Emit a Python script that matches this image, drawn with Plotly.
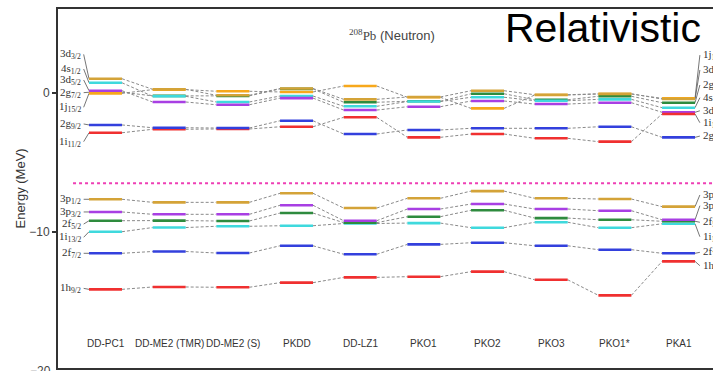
import plotly.graph_objects as go

# Neutron single-particle levels of 208Pb for a set of relativistic models
models = ["DD-PC1", "DD-ME2 (TMR)", "DD-ME2 (S)", "PKDD", "DD-LZ1",
          "PKO1", "PKO2", "PKO3", "PKO1*", "PKA1"]

# energies in MeV, one value per model (same order as `models`)
e_3d32 = [0.99, 0.23, -0.20, 0.29, -0.49, -0.32, 0.13, -0.16, -0.09, -0.47]
e_4s12 = [0.70, -0.27, -0.68, -0.25, -0.99, -0.65, -0.34, -0.59, -0.49, -1.09]
e_3d52 = [0.13, -0.68, -0.88, -0.40, -1.26, -1.02, -0.61, -0.83, -0.73, -1.42]
e_2g72 = [0.02, -0.24, -0.24, 0.26, -0.70, -0.63, -0.09, -0.52, -0.27, -0.73]
e_1j152 = [-0.06, 0.21, 0.09, 0.04, 0.47, -0.34, -1.14, -0.18, -0.11, -0.42]
e_2g92 = [-2.33, -2.53, -2.55, -2.03, -2.98, -2.69, -2.57, -2.57, -2.46, -3.22]
e_1i112 = [-2.89, -2.64, -2.62, -2.46, -1.78, -3.22, -2.98, -3.29, -3.53, -1.54]

e_3p12 = [-7.67, -7.89, -7.89, -7.24, -8.30, -7.60, -7.08, -7.60, -7.65, -8.20]
e_3p32 = [-8.58, -8.75, -8.75, -8.10, -9.21, -8.37, -8.01, -8.37, -8.49, -9.14]
e_2f52 = [-9.21, -9.20, -9.23, -8.66, -9.35, -8.92, -8.46, -9.02, -9.14, -9.25]
e_1i132 = [-10.00, -9.70, -9.61, -9.57, -9.41, -9.38, -9.71, -9.32, -9.71, -9.43]
e_2f72 = [-11.55, -11.42, -11.53, -11.01, -11.62, -10.91, -10.79, -11.01, -11.29, -11.55]
e_1h92 = [-14.14, -13.97, -13.99, -13.66, -13.28, -13.23, -12.87, -13.45, -14.57, -12.13]

fermi_energy = -6.52

# level name, energies, colour, label height at the left / right end (MeV)
levels = [
    ("3d<sub>3/2</sub>", e_3d32, "#D4A338", 2.74, 1.62),
    ("4s<sub>1/2</sub>", e_4s12, "#3FD9DD", 1.69, -0.37),
    ("3d<sub>5/2</sub>", e_3d52, "#A83FE3", 0.90, -1.31),
    ("2g<sub>7/2</sub>", e_2g72, "#2E8B3E", -0.01, 0.54),
    ("1j<sub>15/2</sub>", e_1j152, "#F7A81B", -1.06, 2.69),
    ("2g<sub>9/2</sub>", e_2g92, "#3340DD", -2.26, -3.13),
    ("1i<sub>11/2</sub>", e_1i112, "#F03030", -3.53, -2.17),
    ("3p<sub>1/2</sub>", e_3p12, "#D4A338", -7.67, -7.36),
    ("3p<sub>3/2</sub>", e_3p32, "#A83FE3", -8.58, -8.13),
    ("2f<sub>5/2</sub>", e_2f52, "#2E8B3E", -9.45, -9.32),
    ("1i<sub>13/2</sub>", e_1i132, "#3FD9DD", -10.40, -10.36),
    ("2f<sub>7/2</sub>", e_2f72, "#3340DD", -11.55, -11.48),
    ("1h<sub>9/2</sub>", e_1h92, "#F03030", -14.07, -12.44),
]

# drawing order (later entries end up on top)
draw_order = ["2g<sub>7/2</sub>", "1j<sub>15/2</sub>", "3d<sub>3/2</sub>",
              "4s<sub>1/2</sub>", "3d<sub>5/2</sub>", "1i<sub>11/2</sub>",
              "2g<sub>9/2</sub>", "3p<sub>1/2</sub>", "1i<sub>13/2</sub>",
              "2f<sub>5/2</sub>", "3p<sub>3/2</sub>", "2f<sub>7/2</sub>",
              "1h<sub>9/2</sub>"]

HW = 0.259          # half width of a level bar (in model units)
N = len(models)
XL, XR = -0.746, 9.541
LBL_L, LBL_R = -0.353, 9.345

fig = go.Figure()

# dashed links between the same level in neighbouring models
for name, ev, col, yl, yr in levels:
    xs, ys = [], []
    for i in range(N - 1):
        xs += [i + HW, i + 1 - HW, None]
        ys += [ev[i], ev[i + 1], None]
    fig.add_trace(go.Scatter(x=xs, y=ys, mode="lines", hoverinfo="skip",
                             line=dict(color="#8a8a8a", width=1, dash="3px,2px")))

# short leader lines from the level names to the outer bars
for name, ev, col, yl, yr in levels:
    fig.add_trace(go.Scatter(x=[LBL_L + 0.01, -HW, None, N - 1 + HW, LBL_R - 0.01],
                             y=[yl, ev[0], None, ev[-1], yr],
                             mode="lines", hoverinfo="skip",
                             line=dict(color="#666666", width=0.9)))

# Fermi level
fig.add_trace(go.Scatter(x=[-0.51, XR], y=[fermi_energy, fermi_energy], mode="lines",
                         hoverinfo="skip",
                         line=dict(color="#EE3FB5", width=2, dash="dot")))

# level bars
lookup = {lv[0]: lv for lv in levels}
for name in draw_order:
    _, ev, col, yl, yr = lookup[name]
    xs, ys = [], []
    for i in range(N):
        xs += [i - HW, i + HW, None]
        ys += [ev[i], ev[i], None]
    fig.add_trace(go.Scatter(x=xs, y=ys, mode="lines", hoverinfo="skip",
                             line=dict(color=col, width=2.6)))

ann = []
label_font = dict(family="Liberation Serif, DejaVu Serif, serif", size=11, color="#333333")
for name, ev, col, yl, yr in levels:
    ann.append(dict(x=LBL_L, y=yl, xref="x", yref="y", text=name, showarrow=False,
                    xanchor="right", yanchor="middle", font=label_font))
    ann.append(dict(x=LBL_R, y=yr, xref="x", yref="y", text=name, showarrow=False,
                    xanchor="left", yanchor="middle", font=label_font))

# model names
for i, m in enumerate(models):
    ann.append(dict(x=i, y=-18.0, xref="x", yref="y", text=m, showarrow=False,
                    xanchor="center", yanchor="middle",
                    font=dict(family="Liberation Sans, sans-serif",
                              size=10, color="#333333")))

ann.append(dict(x=0.51, y=0.928, xref="paper", yref="paper", showarrow=False,
                xanchor="center", yanchor="middle",
                text='<span style="font-family:Liberation Serif"><sup>208</sup>Pb</span> (Neutron)',
                font=dict(family="Liberation Sans, sans-serif", size=13, color="#444444")))

ann.append(dict(x=0.679, y=0.948, xref="paper", yref="paper", showarrow=False,
                xanchor="left", yanchor="middle", text="Relativistic",
                font=dict(family="Liberation Sans, Arial, sans-serif", size=41, color="#000000")))

ann.append(dict(x=-0.058, y=0.5, xref="paper", yref="paper", showarrow=False,
                xanchor="center", yanchor="middle", textangle=-90, text="Energy (MeV)",
                font=dict(family="Liberation Sans, sans-serif", size=13, color="#333333")))

ann.append(dict(x=-0.0076, y=-0.007, xref="paper", yref="paper", showarrow=False,
                xanchor="right", yanchor="middle", text="\u221220",
                font=dict(family="Liberation Sans, sans-serif", size=12, color="#444444")))

fig.update_layout(
    width=713, height=371,
    margin=dict(l=58, r=0, t=9, b=3),
    paper_bgcolor="white", plot_bgcolor="white",
    showlegend=False,
    annotations=ann,
    xaxis=dict(range=[XL, XR], showgrid=False, zeroline=False, showticklabels=False,
               ticks="", showline=True, mirror=True, linecolor="#333333", linewidth=2),
    yaxis=dict(range=[-19.79, 6.0], showgrid=False, zeroline=False,
               tickvals=[0, -10], ticks="outside", ticklen=4, tickwidth=2,
               tickcolor="#333333", showline=True, linecolor="#333333", linewidth=2,
               tickfont=dict(family="Liberation Sans, sans-serif", size=12, color="#444444")),
)

fig.write_html("out.html")
